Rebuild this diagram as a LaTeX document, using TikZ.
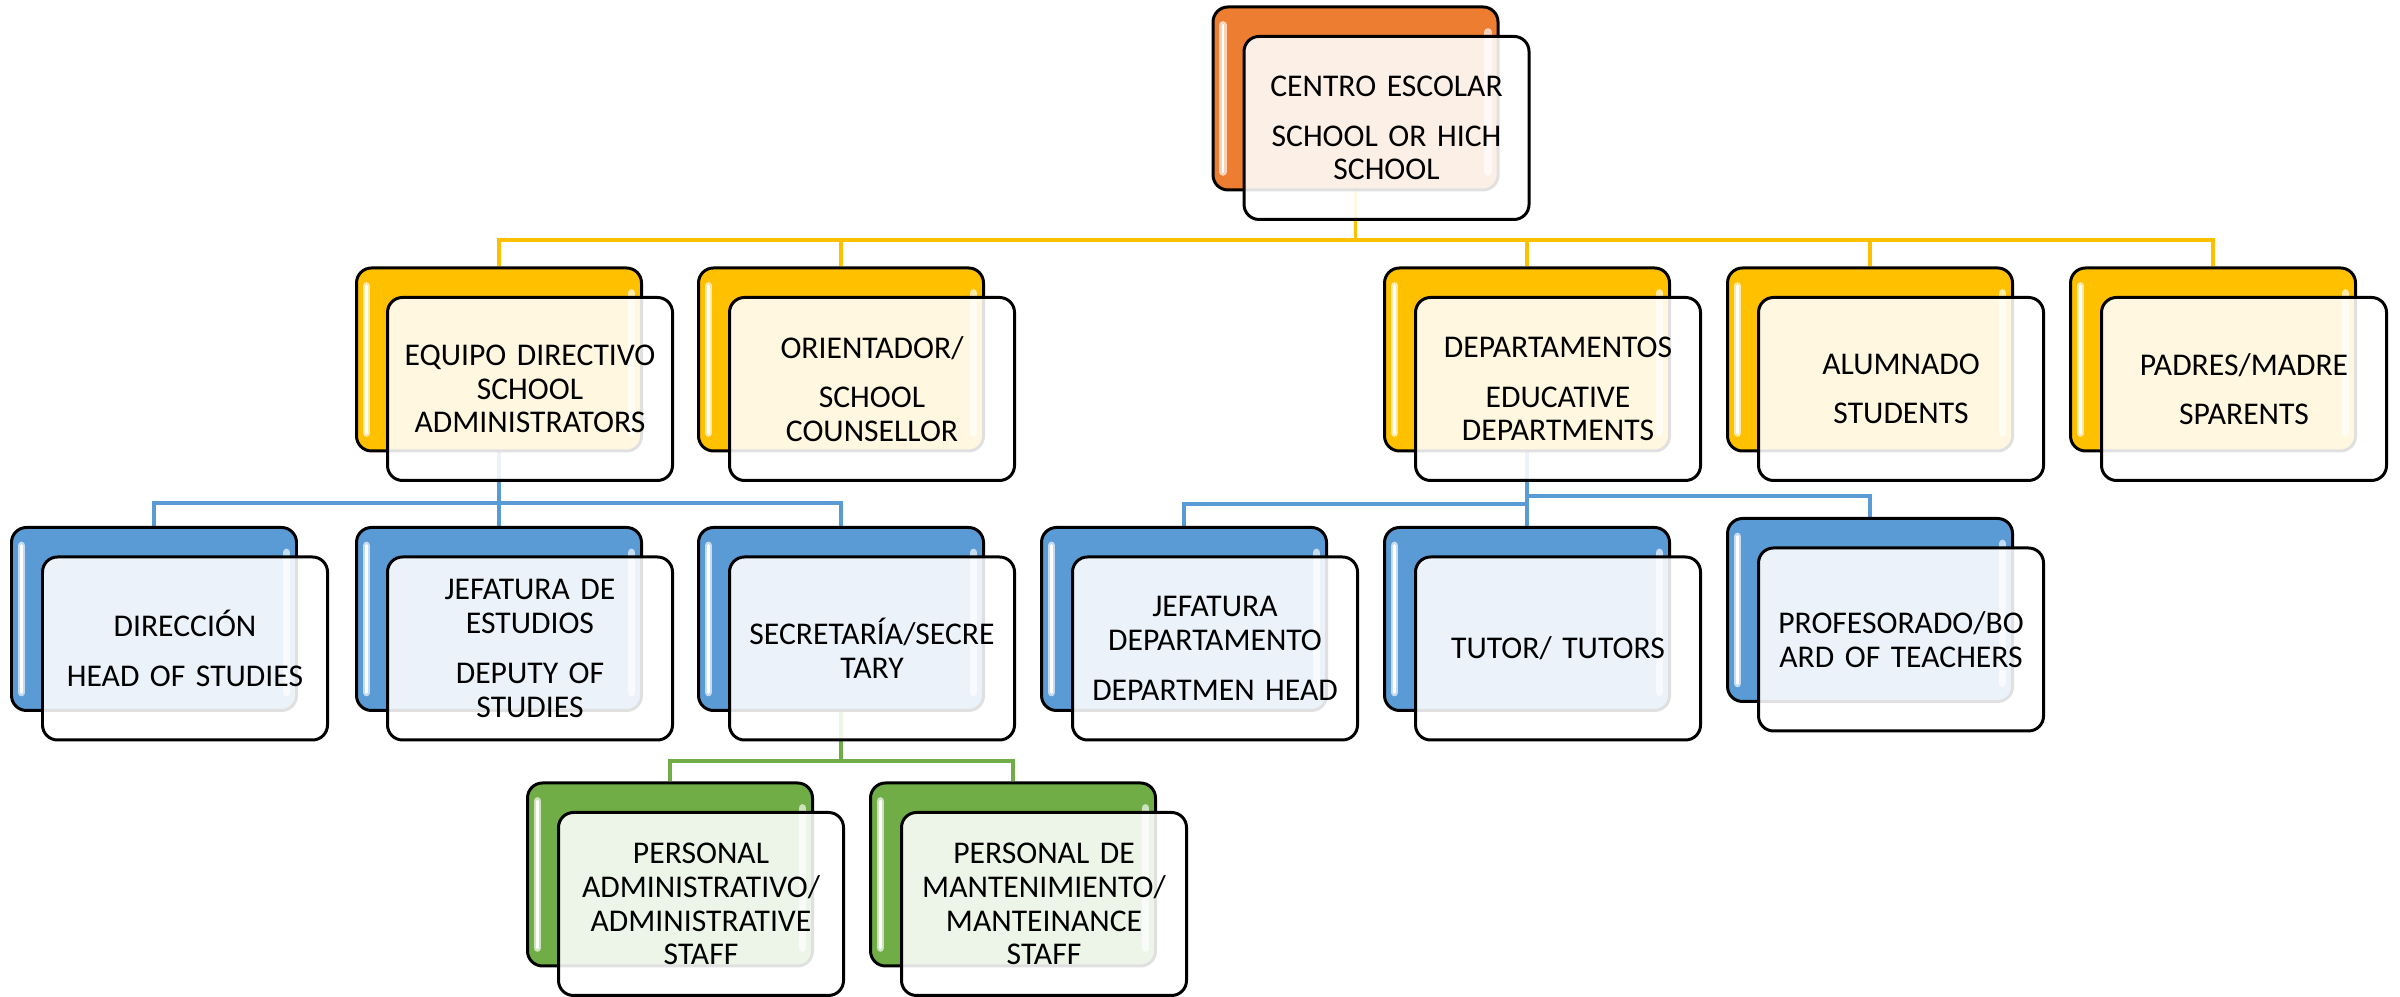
\documentclass[tikz,border=0pt]{standalone}
\usepackage{fontspec}
\setmainfont{Carlito}
\usetikzlibrary{backgrounds}
\definecolor{orgorange}{HTML}{ED7D31}
\definecolor{orggold}{HTML}{FFC000}
\definecolor{orgblue}{HTML}{5B9BD5}
\definecolor{orggreen}{HTML}{70AD47}
\newcommand{\boxfont}{\fontsize{9}{9.6}\selectfont}

\begin{document}
\begin{tikzpicture}[
  backbox/.style={draw=black, line width=0.85pt, rounded corners=0.15cm,
    minimum width=2.85cm, minimum height=1.83cm, inner sep=0pt,
    fill=#1,
    path picture={
      \draw[#1!35!white, line width=2.2pt, line cap=round]
        ([xshift=0.1cm,yshift=-0.18cm]path picture bounding box.north west) --
        ([xshift=0.1cm,yshift=0.18cm]path picture bounding box.south west);
      \draw[white, line width=0.8pt, line cap=round]
        ([xshift=0.1cm,yshift=-0.18cm]path picture bounding box.north west) --
        ([xshift=0.1cm,yshift=0.18cm]path picture bounding box.south west);
      \draw[#1!35!white, line width=2.2pt, line cap=round]
        ([xshift=-0.1cm,yshift=-0.25cm]path picture bounding box.north east) --
        ([xshift=-0.1cm,yshift=0.18cm]path picture bounding box.south east);
    }},
  frontbox/.style={draw=black, line width=0.85pt, rounded corners=0.15cm,
    minimum width=2.85cm, minimum height=1.83cm, inner sep=1mm,
    fill=white, fill opacity=0.88, text opacity=1,
    text width=2.65cm, align=center, font=\boxfont},
  link/.style={draw=#1, line width=1pt}
]
\useasboundingbox (0,0) rectangle (24,9.97);

% Top box
\node [backbox=orgorange] (top-b) at (13.555,8.985) {};
\node [frontbox] (top) at (13.865,8.69) {CENTRO ESCOLAR\\[4.5pt] SCHOOL OR HICH\\ SCHOOL};

% Second level
\node [backbox=orggold] (equipo-b) at (4.99,6.375) {};
\node [frontbox] (equipo) at (5.30,6.08) {EQUIPO DIRECTIVO\\ SCHOOL\\ ADMINISTRATORS};
\node [backbox=orggold] (orient-b) at (8.41,6.375) {};
\node [frontbox] (orient) at (8.72,6.08) {ORIENTADOR/\\[4.5pt] SCHOOL\\ COUNSELLOR};
\node [backbox=orggold] (deptos-b) at (15.27,6.375) {};
\node [frontbox] (deptos) at (15.58,6.08) {DEPARTAMENTOS\\[4.5pt] EDUCATIVE\\ DEPARTMENTS};
\node [backbox=orggold] (alumnos-b) at (18.70,6.375) {};
\node [frontbox] (alumnos) at (19.01,6.08) {ALUMNADO\\[4.5pt] STUDENTS};
\node [backbox=orggold] (padres-b) at (22.13,6.375) {};
\node [frontbox] (padres) at (22.44,6.08) {PADRES/MADRE\\[4.5pt] SPARENTS};

% Third level
\node [backbox=orgblue] (direc-b) at (1.54,3.78) {};
\node [frontbox] (direc) at (1.85,3.485) {DIRECCIÓN\\[4.5pt] HEAD OF STUDIES};
\node [backbox=orgblue] (jefest-b) at (4.99,3.78) {};
\node [frontbox] (jefest) at (5.30,3.485) {JEFATURA DE\\ ESTUDIOS\\[4.5pt] DEPUTY OF\\ STUDIES};
\node [backbox=orgblue] (secre-b) at (8.41,3.78) {};
\node [frontbox] (secre) at (8.72,3.485) {SECRETARÍA/SECRE\\ TARY};
\node [backbox=orgblue] (jefdep-b) at (11.84,3.78) {};
\node [frontbox] (jefdep) at (12.15,3.485) {JEFATURA\\ DEPARTAMENTO\\[4.5pt] DEPARTMEN HEAD};
\node [backbox=orgblue] (tutor-b) at (15.27,3.78) {};
\node [frontbox] (tutor) at (15.58,3.485) {TUTOR/ TUTORS};
\node [backbox=orgblue] (profes-b) at (18.70,3.87) {};
\node [frontbox] (profes) at (19.01,3.575) {PROFESORADO/BO\\ ARD OF TEACHERS};

% Fourth level
\node [backbox=orggreen] (persadm-b) at (6.70,1.225) {};
\node [frontbox] (persadm) at (7.01,0.93) {PERSONAL\\ ADMINISTRATIVO/\\ ADMINISTRATIVE\\ STAFF};
\node [backbox=orggreen] (persman-b) at (10.13,1.225) {};
\node [frontbox] (persman) at (10.44,0.93) {PERSONAL DE\\ MANTENIMIENTO/\\ MANTEINANCE\\ STAFF};

% Connectors
\coordinate (topbus) at (13.555,7.57);
\coordinate (equipobus) at (4.99,4.94);
\coordinate (deptosbus) at (15.27,4.93);
\coordinate (profesbus) at (15.27,5.01);
\coordinate (secrebus) at (8.41,2.36);
\begin{pgfonlayer}{background}
\draw [link=orggold] (top-b.south) -- (topbus);
\draw [link=orggold] (topbus) -| (equipo-b.north);
\draw [link=orggold] (topbus) -| (orient-b.north);
\draw [link=orggold] (topbus) -| (deptos-b.north);
\draw [link=orggold] (topbus) -| (alumnos-b.north);
\draw [link=orggold] (topbus) -| (padres-b.north);

\draw [link=orgblue] (equipo-b.south) -- (equipobus);
\draw [link=orgblue] (equipobus) -| (direc-b.north);
\draw [link=orgblue] (equipobus) -- (jefest-b.north);
\draw [link=orgblue] (equipobus) -| (secre-b.north);

\draw [link=orgblue] (deptos-b.south) -- (deptosbus);
\draw [link=orgblue] (deptosbus) -| (jefdep-b.north);
\draw [link=orgblue] (deptosbus) -- (tutor-b.north);
\draw [link=orgblue] (profesbus) -| (profes-b.north);

\draw [link=orggreen] (secre-b.south) -- (secrebus);
\draw [link=orggreen] (secrebus) -| (persadm-b.north);
\draw [link=orggreen] (secrebus) -| (persman-b.north);
\end{pgfonlayer}
\end{tikzpicture}
\end{document}
